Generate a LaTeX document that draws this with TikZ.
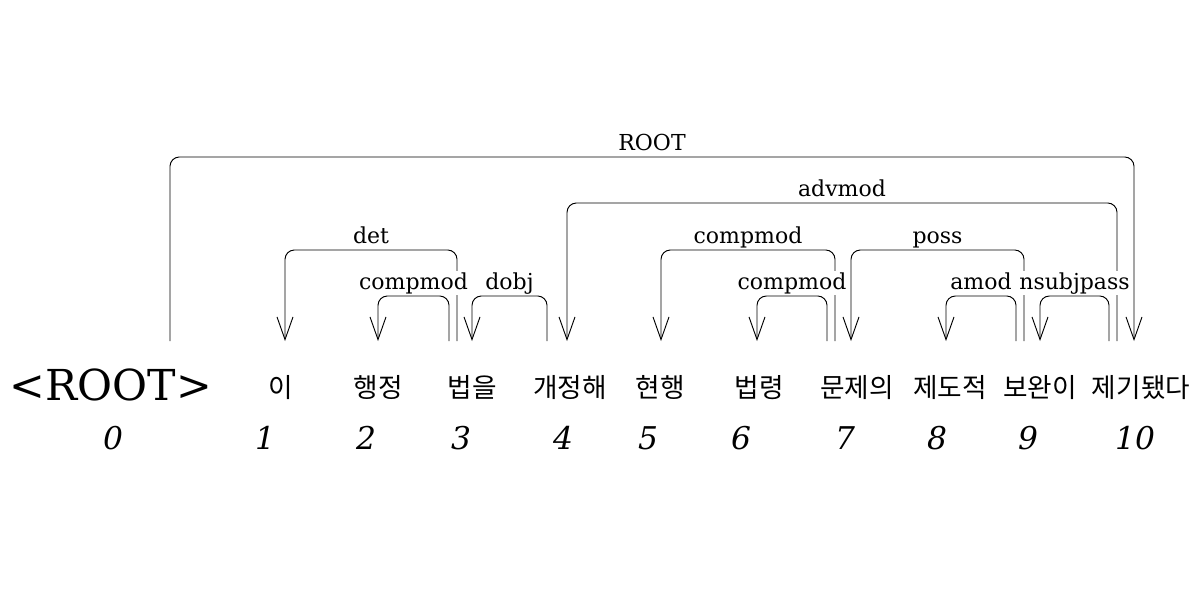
\documentclass[tikz,border=0pt]{standalone}
\usepackage{fontspec}
\setmainfont{DejaVu Serif}
\newfontfamily\kofont{Noto Sans CJK KR}
\usetikzlibrary{arrows.meta,calc}

\tikzset{
  tok/.style={anchor=base, inner sep=0pt, font=\kofont\fontsize{20}{24}\selectfont},
  rootok/.style={anchor=base, inner sep=0pt, font=\fontsize{32}{36}\selectfont},
  idx/.style={anchor=base, inner sep=0pt, font=\fontsize{23.5}{26}\selectfont\itshape},
  dep/.style={draw, line width=0.7pt, rounded corners=7pt, -{Straight Barb[length=17pt,width=12pt]}},
  rel/.style={anchor=base, fill=white, inner sep=1pt, font=\fontsize{16.5}{19}\selectfont},
}

% head, dependent, level, label
\newcommand\deparc[4]{%
  \draw[dep] (#1) -- (#1 |- 0,#3) -- (#2 |- 0,#3) -- (#2);
  \node[rel] at ($(#1 |- 0,#3)!0.5!(#2 |- 0,#3)+(0,-7)$) {#4};
}

\begin{document}
\begin{tikzpicture}[x=0.75pt,y=-0.75pt]

\useasboundingbox (0,0) rectangle (1198,589);

\node[rootok] (w0) at (111,400) {<ROOT>};
\node[tok] (w1) at (281,397) {이};
\node[tok] (w2) at (378,397) {행정};
\node[tok] (w3) at (472,397) {법을};
\node[tok] (w4) at (570,397) {개정해};
\node[tok] (w5) at (660,397) {현행};
\node[tok] (w6) at (759,397) {법령};
\node[tok] (w7) at (857,397) {문제의};
\node[tok] (w8) at (950,397) {제도적};
\node[tok] (w9) at (1040,397) {보완이};
\node[tok] (w10) at (1141,397) {제기됐다};

\foreach \i/\x in {0/113,1/265,2/366,3/461,4/563,5/648,6/741,7/845,8/937,9/1028,10/1135}
  \node[idx] (n\i) at (\x,449) {\i};

% arrow ends
\coordinate (r0) at (170,341);
\foreach \i/\x in {1/285,2/378,3/472,4/567,5/661,6/757,7/851,8/946,9/1040,10/1134}
  \coordinate (d\i) at (\x,341);
\coordinate (h3a) at (449,341);
\coordinate (h3b) at (457,341);
\coordinate (h4) at (547,341);
\coordinate (h7a) at (827,341);
\coordinate (h7b) at (835,341);
\coordinate (h9a) at (1016,341);
\coordinate (h9b) at (1024,341);
\coordinate (h10a) at (1109,341);
\coordinate (h10b) at (1117,341);

\deparc{r0}{d10}{157}{ROOT}
\deparc{h10b}{d4}{203}{advmod}
\deparc{h3b}{d1}{250}{det}
\deparc{h7b}{d5}{250}{compmod}
\deparc{h9b}{d7}{250}{poss}
\deparc{h3a}{d2}{296}{compmod}
\deparc{h4}{d3}{296}{dobj}
\deparc{h7a}{d6}{296}{compmod}
\deparc{h9a}{d8}{296}{amod}
\deparc{h10a}{d9}{296}{nsubjpass}

\end{tikzpicture}
\end{document}
